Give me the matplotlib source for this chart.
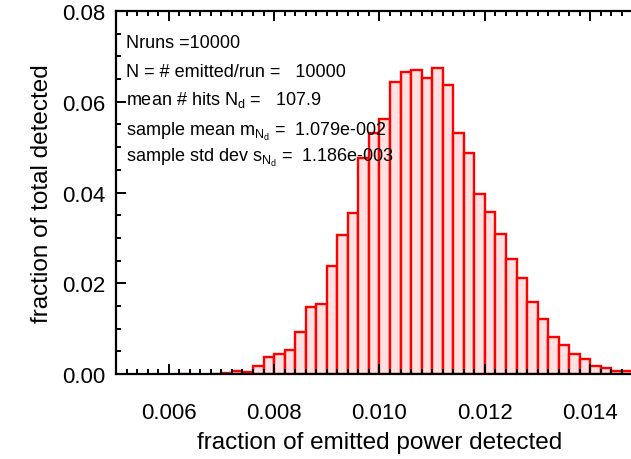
import numpy as np
import matplotlib
matplotlib.use("Agg")
import matplotlib.pyplot as plt
from matplotlib.ticker import MultipleLocator, FormatStrFormatter

plt.rcParams['font.family'] = ['Liberation Sans', 'DejaVu Sans']
plt.rcParams['mathtext.fontset'] = 'custom'
plt.rcParams['mathtext.rm'] = 'Liberation Sans'
plt.rcParams['mathtext.it'] = 'Liberation Sans'

# histogram data: left bin edges (fraction of emitted power) and fraction of runs
bin_width = 0.0002
bin_left = np.round(np.arange(0.0062, 0.0148, bin_width), 4)
fraction = [0.0001, 0.0, 0.0, 0.0001, 0.0002, 0.0007, 0.0004, 0.0017, 0.0037,
            0.0045, 0.0053, 0.0093, 0.0148, 0.0155, 0.0237, 0.0306, 0.0355,
            0.0475, 0.0532, 0.0563, 0.0643, 0.0665, 0.0670, 0.0652, 0.0674,
            0.0636, 0.0531, 0.0487, 0.0397, 0.0358, 0.0309, 0.0254, 0.0211,
            0.0159, 0.0121, 0.0082, 0.0065, 0.0044, 0.0033, 0.0018, 0.0013,
            0.0006, 0.0006]

info_lines = [
    'Nruns =10000',
    'N = # emitted/run =   10000',
    r'mean # hits N$_\mathregular{d}$ =   107.9',
    r'sample mean $\mathregular{m_{N_d}}$ =  1.079e-002',
    r'sample std dev $\mathregular{s_{N_d}}$ =  1.186e-003',
]
info_y = [0.0721, 0.0657, 0.0595, 0.0527, 0.0470]

fig = plt.figure(figsize=(6.31, 4.60), dpi=100)
ax = fig.add_axes([116 / 631, 1 - 375 / 460, (643 - 116) / 631, (375 - 12) / 460])

heights = np.array(fraction)
keep = heights > 0
ax.bar(bin_left[keep], heights[keep], width=bin_width, align='edge',
       facecolor='#ffe1e1', edgecolor='#ff0000', linewidth=1.7)

ax.set_xlim(0.005, 0.015)
ax.set_ylim(0.0, 0.08)
ax.xaxis.set_major_locator(MultipleLocator(0.002))
ax.xaxis.set_minor_locator(MultipleLocator(0.0002))
ax.yaxis.set_major_locator(MultipleLocator(0.02))
ax.yaxis.set_minor_locator(MultipleLocator(0.005))
ax.xaxis.set_major_formatter(FormatStrFormatter('%.3f'))
ax.yaxis.set_major_formatter(FormatStrFormatter('%.2f'))

ax.tick_params(which='both', direction='in', top=True, right=True, width=1.4)
ax.tick_params(which='major', length=7, labelsize=16)
ax.tick_params(which='minor', length=3.5)
ax.tick_params(axis='x', which='major', pad=20)
ax.tick_params(axis='y', which='major', pad=8)
for s in ax.spines.values():
    s.set_linewidth(1.6)

ax.set_xlabel('fraction of emitted power detected', fontsize=17.5, labelpad=6)
ax.set_ylabel('fraction of total detected', fontsize=17.5, labelpad=6)

for txt, yy in zip(info_lines, info_y):
    ax.text(0.00519, yy, txt, fontsize=13, va='baseline', ha='left')

fig.savefig('out.png', dpi=100)
